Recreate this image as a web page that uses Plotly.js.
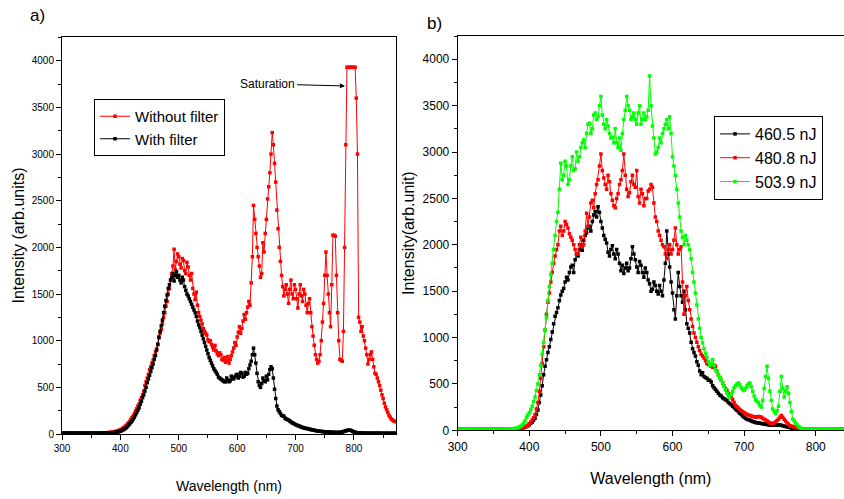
<!DOCTYPE html>
<html>
<head>
<meta charset="utf-8">
<script src="https://cdn.plot.ly/plotly-3.0.1.min.js"></script>
<style>
  html, body { margin: 0; padding: 0; background: #fff; }
  #chart { width: 844px; height: 499px; }
</style>
</head>
<body>
<div id="chart"></div>
<script>
// ---------- Panel a) : wavelength grid 300..872 nm, step 2 nm (10 values = 20 nm per row) ----------
const aStart = 300, aStep = 2;
const aSeriesNames = ["Without filter", "With filter"];
// Without filter (red)
const aWithout = [
  12, 11, 10, 12, 14, 12, 11, 10, 12, 13,                 // 300
  10, 12, 13, 11, 11, 12, 12, 10, 10, 11,                 // 320
  12, 13, 11, 10, 13, 12, 10, 11, 12, 11,                 // 340
  11, 12, 12, 13, 13, 12, 12, 13, 14, 14,                 // 360
  15, 16, 18, 20, 22, 25, 28, 31, 35, 40,                 // 380
  45, 52, 60, 70, 80, 92, 105, 120, 135, 155,             // 400
  175, 195, 220, 250, 270, 300, 320, 360, 390, 420,       // 420
  460, 520, 560, 600, 640, 690, 720, 760, 790, 840,       // 440
  880, 910, 960, 1030, 1080, 1120, 1180, 1250, 1300, 1370, // 460
  1420, 1500, 1560, 1650, 1720, 1800, 1980, 1760, 1850, 1930, // 480
  1900, 1820, 1780, 1880, 1860, 1750, 1720, 1840, 1790, 1700, // 500
  1650, 1720, 1560, 1500, 1440, 1520, 1380, 1300, 1260, 1220, // 520
  1180, 1130, 1100, 1080, 1060, 1010, 990, 1000, 960, 930,   // 540
  900, 950, 890, 860, 840, 870, 850, 800, 790, 820,          // 560
  770, 790, 830, 760, 800, 840, 880, 920, 980, 950,          // 580
  1040, 1090, 1150, 1080, 1130, 1210, 1280, 1230, 1300, 1360, // 600
  1420, 1380, 1620, 1900, 2450, 2300, 2150, 2000, 1900, 1800, // 620
  1680, 1720, 2050, 1950, 2150, 2300, 2520, 2650, 2800, 3000, // 640
  3230, 3100, 2900, 2700, 2400, 2200, 2000, 1850, 1700, 1580, // 660
  1480, 1550, 1600, 1500, 1400, 1550, 1650, 1500, 1450, 1600, // 680
  1550, 1450, 1350, 1500, 1600, 1480, 1420, 1550, 1500, 1380, // 700
  1300, 1400, 1450, 1300, 1150, 1050, 950, 850, 800, 760,     // 720
  780, 850, 1000, 1200, 1400, 1700, 1950, 1700, 1500, 1300,   // 740
  1150, 1600, 2130, 2130, 2120, 1700, 1300, 1000, 800, 790,   // 760
  780, 1100, 2000, 3100, 3930, 3930, 3930, 3930, 3930, 3930,  // 780
  3930, 3930, 3600, 3000, 1250, 1200, 1100, 1150, 1050, 1000, // 800
  920, 850, 750, 800, 850, 880, 800, 720, 650, 640,           // 820
  600, 560, 520, 470, 420, 380, 330, 290, 260, 230,           // 840
  200, 180, 160, 150, 140, 135, 130                           // 860
];
// With filter (black)
const aWith = [
  8, 8, 7, 8, 9, 8, 8, 7, 7, 8,                      // 300
  9, 8, 8, 7, 7, 8, 8, 9, 9, 8,                      // 320
  8, 7, 7, 8, 8, 9, 9, 8, 8, 7,                      // 340
  7, 8, 8, 9, 9, 8, 8, 9, 9, 10,                     // 360
  10, 11, 12, 13, 14, 16, 18, 20, 22, 26,            // 380
  30, 36, 42, 50, 58, 68, 80, 95, 110, 125,          // 400
  140, 160, 180, 205, 230, 255, 280, 320, 350, 390,  // 420
  420, 460, 500, 550, 590, 630, 670, 710, 750, 800,  // 440
  840, 900, 960, 1040, 1100, 1160, 1220, 1300, 1370, 1430, // 460
  1490, 1560, 1600, 1650, 1680, 1720, 1640, 1700, 1740, 1680, // 480
  1700, 1650, 1620, 1680, 1650, 1580, 1540, 1500, 1480, 1450, // 500
  1420, 1390, 1360, 1330, 1300, 1260, 1210, 1170, 1140, 1100, // 520
  1060, 1020, 980, 940, 900, 860, 820, 790, 760, 730, // 540
  700, 680, 660, 640, 610, 600, 590, 580, 570, 560,   // 560
  560, 600, 580, 560, 570, 620, 600, 590, 610, 630,   // 580
  640, 600, 620, 660, 650, 610, 620, 660, 640, 650,   // 600
  700, 740, 780, 850, 920, 850, 760, 650, 560, 520,   // 620
  500, 540, 600, 570, 560, 620, 580, 640, 690, 720,   // 640
  700, 600, 480, 380, 300, 260, 240, 220, 200, 195,   // 660
  190, 170, 160, 155, 150, 140, 130, 120, 115, 108,   // 680
  100, 95, 90, 85, 80, 75, 70, 66, 62, 60,            // 700
  58, 55, 52, 48, 45, 42, 40, 37, 35, 32,             // 720
  30, 29, 28, 26, 25, 23, 22, 21, 20, 20,             // 740
  20, 19, 18, 18, 17, 17, 16, 17, 18, 20,             // 760
  22, 26, 30, 34, 38, 40, 42, 40, 35, 28,             // 780
  22, 18, 15, 13, 12, 11, 10, 10, 10, 9,              // 800
  9, 9, 8, 8, 9, 9, 8, 8, 8, 8,                       // 820
  9, 8, 8, 8, 8, 7, 7, 7, 8, 8,                       // 840
  7, 7, 8, 8, 7, 8, 8                                 // 860
];

// ---------- Panel b) : wavelength grid 300..840 nm, step 2 nm ----------
const bStart = 300, bStep = 2;
const bSeriesNames = ["460.5 nJ", "480.8 nJ", "503.9 nJ"];
const b460 = [
  10, 10, 9, 10, 11, 10, 10, 9, 9, 10,               // 300
  10, 11, 11, 10, 10, 9, 9, 10, 10, 10,              // 320
  10, 10, 9, 10, 10, 11, 11, 10, 10, 10,             // 340
  9, 10, 10, 11, 11, 10, 10, 11, 12, 12,             // 360
  12, 13, 15, 17, 20, 24, 28, 33, 40, 50,            // 380
  60, 75, 90, 110, 130, 170, 220, 300, 380, 480,     // 400
  600, 690, 760, 840, 900, 980, 1060, 1150, 1230, 1270, // 420
  1320, 1400, 1460, 1500, 1530, 1600, 1650, 1620, 1700, 1760, // 440
  1780, 1700, 1840, 1900, 1880, 1950, 2000, 1940, 2050, 2100, // 460
  2130, 2180, 2200, 2150, 2250, 2320, 2360, 2300, 2410, 2350, // 480
  2250, 2180, 2100, 2060, 2020, 1920, 1880, 1950, 1990, 1900, // 500
  1850, 1950, 1900, 1800, 1720, 1780, 1690, 1750, 1800, 1720, // 520
  1750, 1850, 1980, 1900, 1840, 1760, 1700, 1820, 1780, 1700, // 540
  1650, 1750, 1700, 1620, 1580, 1500, 1520, 1600, 1560, 1500, // 560
  1470, 1560, 1500, 1450, 1620, 1800, 2150, 1900, 1760, 1600, // 580
  1480, 1300, 1200, 1450, 1700, 1550, 1450, 1380, 1500, 1300, // 600
  1150, 1100, 1050, 950, 880, 840, 800, 740, 700, 640,        // 620
  600, 620, 580, 570, 560, 540, 540, 520, 480, 460,           // 640
  440, 420, 400, 380, 370, 350, 340, 330, 320, 300,           // 660
  290, 275, 260, 245, 230, 215, 200, 185, 170, 155,           // 680
  140, 130, 120, 115, 110, 100, 95, 90, 85, 82,               // 700
  78, 75, 72, 70, 68, 65, 62, 60, 58, 56,                     // 720
  55, 54, 55, 57, 58, 57, 55, 50, 45, 42,                     // 740
  38, 34, 30, 26, 22, 18, 14, 12, 10, 10,                     // 760
  9, 9, 10, 10, 9, 9, 10, 10, 9, 9,                           // 780
  10, 10, 9, 9, 10, 10, 9, 9, 10, 10,                         // 800
  9, 9, 10, 10, 9, 9, 10, 10, 9, 9,                           // 820
  10                                                          // 840
];
const b480 = [
  10, 10, 11, 10, 10, 9, 9, 10, 10, 11,              // 300
  11, 10, 10, 10, 9, 10, 10, 11, 11, 10,             // 320
  10, 10, 9, 10, 10, 11, 11, 10, 10, 10,             // 340
  10, 11, 11, 10, 10, 11, 12, 12, 13, 13,            // 360
  14, 15, 17, 19, 22, 26, 30, 37, 45, 55,            // 380
  70, 88, 110, 135, 170, 230, 300, 420, 560, 720,    // 400
  900, 1080, 1250, 1380, 1480, 1600, 1700, 1800, 1880, 1950, // 420
  2000, 2150, 2200, 2100, 2150, 2250, 2220, 2180, 2120, 2080, // 440
  2050, 2000, 1950, 1900, 1900, 2000, 2080, 1980, 2000, 2150, // 460
  2340, 2200, 2300, 2450, 2480, 2400, 2550, 2650, 2700, 2850, // 480
  2980, 2800, 2720, 2650, 2600, 2750, 2680, 2550, 2480, 2420, // 500
  2400, 2500, 2550, 2650, 2700, 2800, 2980, 2750, 2600, 2520, // 520
  2560, 2680, 2750, 2650, 2620, 2800, 2520, 2450, 2600, 2550, // 540
  2420, 2500, 2500, 2580, 2600, 2650, 2620, 2450, 2300, 2250, // 560
  2150, 2100, 2050, 2000, 1980, 1900, 1850, 1950, 2000, 1900, // 580
  1950, 2050, 2180, 2000, 1900, 1950, 1980, 1600, 1250, 1450, // 600
  1550, 1400, 1300, 1200, 1120, 1050, 1000, 950, 900, 860,    // 620
  820, 800, 780, 750, 720, 710, 700, 690, 680, 700,           // 640
  690, 640, 600, 570, 540, 510, 480, 450, 430, 400,           // 660
  380, 350, 330, 300, 270, 255, 240, 225, 210, 200,           // 680
  190, 180, 170, 165, 160, 155, 150, 145, 140, 145,           // 700
  150, 145, 140, 130, 120, 110, 100, 90, 80, 75,              // 720
  70, 80, 90, 105, 120, 140, 160, 140, 120, 100,              // 740
  80, 65, 50, 45, 40, 35, 30, 25, 20, 15,                     // 760
  12, 11, 10, 10, 9, 9, 10, 10, 9, 9,                         // 780
  10, 10, 9, 9, 10, 10, 9, 9, 10, 10,                         // 800
  9, 9, 10, 10, 9, 9, 10, 10, 9, 9,                           // 820
  10                                                          // 840
];
const b503 = [
  10, 11, 11, 10, 10, 11, 12, 11, 11, 10,            // 300
  10, 10, 11, 12, 12, 11, 11, 10, 10, 11,            // 320
  11, 10, 10, 11, 12, 11, 11, 10, 10, 11,            // 340
  12, 12, 11, 12, 13, 13, 14, 15, 16, 18,            // 360
  20, 24, 28, 35, 45, 58, 75, 100, 140, 165,         // 380
  190, 225, 260, 310, 360, 430, 500, 600, 700, 820,  // 400
  950, 1080, 1220, 1400, 1550, 1680, 1800, 1950, 2100, 2250, // 420
  2350, 2600, 2880, 2700, 2750, 2900, 2850, 2650, 2700, 2850, // 440
  2950, 2800, 2820, 3000, 2900, 2950, 3050, 3100, 3130, 3050, // 460
  3200, 3300, 3310, 3200, 3250, 3400, 3420, 3350, 3380, 3500, // 480
  3600, 3400, 3300, 3250, 3350, 3280, 3200, 3150, 3160, 3100, // 500
  3250, 3100, 3050, 3150, 3020, 3200, 3350, 3450, 3600, 3500, // 520
  3450, 3350, 3380, 3420, 3350, 3300, 3420, 3500, 3300, 3350, // 540
  3420, 3350, 3380, 3450, 3820, 3500, 3280, 3150, 2980, 3000, // 560
  3050, 3150, 3100, 3200, 3250, 3300, 3350, 3250, 3380, 3200, // 580
  2950, 2850, 2750, 2600, 2450, 2300, 2150, 2080, 2000, 2100, // 600
  2050, 2000, 1950, 1850, 1700, 1600, 1480, 1350, 1200, 1100, // 620
  1000, 940, 880, 830, 790, 740, 700, 720, 760, 700,          // 640
  650, 630, 600, 570, 540, 510, 480, 440, 400, 370,           // 660
  360, 390, 420, 460, 480, 500, 510, 490, 460, 440,           // 680
  430, 450, 480, 500, 510, 470, 420, 370, 330, 310,           // 700
  300, 270, 250, 320, 450, 580, 690, 560, 420, 320,           // 720
  230, 200, 180, 210, 260, 420, 580, 450, 360, 420,           // 740
  470, 400, 300, 200, 120, 100, 80, 60, 40, 30,               // 760
  20, 15, 12, 11, 10, 11, 11, 10, 10, 11,                     // 780
  12, 11, 10, 10, 11, 11, 10, 11, 12, 11,                     // 800
  10, 10, 11, 11, 10, 11, 12, 11, 10, 10,                     // 820
  11                                                          // 840
];

const yTickVals = [0, 500, 1000, 1500, 2000, 2500, 3000, 3500, 4000];
const xTickVals = [300, 400, 500, 600, 700, 800];

const BASE = '"Liberation Sans", Arial, Helvetica, sans-serif';

function series(y, name, color, xa, ya, legend, start, step) {
  return {
    type: 'scatter', mode: 'lines+markers', name: name,
    x0: start, dx: step, y: y,
    xaxis: xa, yaxis: ya, legend: legend,
    line: { color: color, width: 1 },
    marker: { color: color, symbol: 'square', size: 3.5, line: { width: 0 } },
    hoverinfo: 'skip'
  };
}

const traces = [
  series(aWithout, aSeriesNames[0], '#ff0000', 'x', 'y', 'legend', aStart, aStep),
  series(aWith, aSeriesNames[1], '#000000', 'x', 'y', 'legend', aStart, aStep),
  series(b460, bSeriesNames[0], '#000000', 'x2', 'y2', 'legend2', bStart, bStep),
  series(b480, bSeriesNames[1], '#ff0000', 'x2', 'y2', 'legend2', bStart, bStep),
  series(b503, bSeriesNames[2], '#00ff00', 'x2', 'y2', 'legend2', bStart, bStep)
];

const W = 844, H = 499;
const px = v => v / W, py = v => 1 - v / H;

function xAxis(domain, range, anchor, tickSize, titleSize, standoff, mirror) {
  return {
    domain: domain, range: range, anchor: anchor,
    showline: true, linecolor: '#000', linewidth: 1, mirror: mirror,
    showgrid: false, zeroline: false,
    ticks: 'outside', ticklen: 5, tickwidth: 1, tickcolor: '#000',
    tickmode: 'array', tickvals: xTickVals,
    minor: { dtick: 50, ticks: 'outside', ticklen: 3, tickwidth: 1, tickcolor: '#000' },
    tickfont: { family: BASE, size: tickSize, color: '#000' },
    title: { text: 'Wavelength (nm)', font: { family: BASE, size: titleSize, color: '#000' }, standoff: standoff },
    automargin: false
  };
}
function yAxis(domain, range, anchor, tickSize, titleText, titleSize, standoff, mirror) {
  return {
    domain: domain, range: range, anchor: anchor,
    showline: true, linecolor: '#000', linewidth: 1, mirror: mirror,
    showgrid: false, zeroline: false,
    ticks: 'outside', ticklen: 5, tickwidth: 1, tickcolor: '#000',
    tickmode: 'array', tickvals: yTickVals,
    minor: { dtick: 250, ticks: 'outside', ticklen: 3, tickwidth: 1, tickcolor: '#000' },
    tickfont: { family: BASE, size: tickSize, color: '#000' },
    title: { text: titleText, font: { family: BASE, size: titleSize, color: '#000' }, standoff: standoff },
    automargin: false
  };
}

const layout = {
  width: W, height: H,
  margin: { l: 0, r: 0, t: 0, b: 0, pad: 0 },
  paper_bgcolor: '#fff', plot_bgcolor: '#fff',
  showlegend: true, hovermode: false,
  xaxis: xAxis([px(62), px(396)], [300, 872], 'y', 10, 14, 28, true),
  yaxis: yAxis([py(434), py(37)], [0, 4255], 'x', 10, 'Intensity (arb.units)', 16, 3, true),
  xaxis2: xAxis([px(457.7), 1], [300, 839.5], 'y2', 12, 16, 20, true),
  yaxis2: yAxis([py(430.3), py(36)], [0, 4251], 'x2', 12, 'Intensity(arb.unit)', 16, 3, false),
  legend: {
    x: px(94), y: py(99), xanchor: 'left', yanchor: 'top',
    bgcolor: '#fff', bordercolor: '#000', borderwidth: 1,
    font: { family: BASE, size: 15, color: '#000' },
    itemwidth: 30, tracegroupgap: 0
  },
  legend2: {
    x: px(714), y: py(116), xanchor: 'left', yanchor: 'top',
    bgcolor: '#fff', bordercolor: '#000', borderwidth: 1,
    font: { family: BASE, size: 16, color: '#000' },
    itemwidth: 30, tracegroupgap: 0
  },
  annotations: [
    { text: 'a)', xref: 'paper', yref: 'paper', x: px(37), y: py(15), xanchor: 'center', yanchor: 'middle',
      showarrow: false, font: { family: BASE, size: 17, color: '#000' } },
    { text: 'b)', xref: 'paper', yref: 'paper', x: px(434), y: py(23), xanchor: 'center', yanchor: 'middle',
      showarrow: false, font: { family: BASE, size: 17, color: '#000' } },
    { text: 'Saturation', xref: 'x', yref: 'y', x: 784.6, y: 3730,
      showarrow: true, ax: -77, ay: -2, arrowhead: 2, arrowsize: 1, arrowwidth: 1, arrowcolor: '#000',
      font: { family: BASE, size: 12, color: '#000' } }
  ]
};

Plotly.newPlot('chart', traces, layout, { staticPlot: true, displayModeBar: false });
</script>
</body>
</html>
